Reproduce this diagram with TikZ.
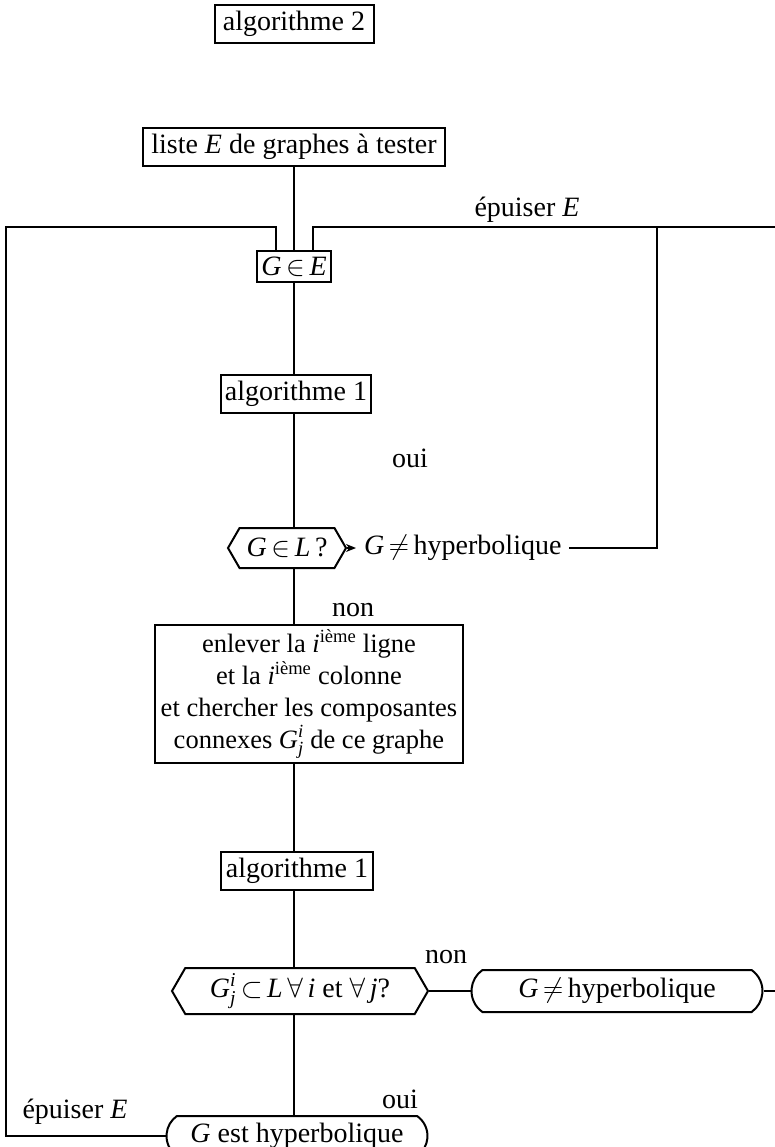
\documentclass[tikz,border=0pt]{standalone}
\usepackage{fix-cm}
\usepackage{amsmath}
\usepackage{fontspec}
\setmainfont{Liberation Serif}
\usetikzlibrary{shapes.misc,shapes.symbols,arrows.meta}
\begin{document}
\begin{tikzpicture}[x=1pt,y=-1pt, line width=2pt,
  every node/.style={font=\fontsize{28}{32}\selectfont, inner sep=0pt},
  box/.style={draw, rectangle, minimum height=38pt},
  decision/.style={draw, signal, signal to=west and east, signal pointer angle=120, minimum height=40pt},
  term/.style={draw, rounded rectangle, rounded rectangle arc length=110, minimum height=42pt},
  lbl/.style={draw=none}
]
\clip (0,0) rectangle (775,1147);
% nodes
\node[box, minimum width=159pt] (a2) at (294,24) {algorithme 2};
\node[box, minimum width=302pt] (liste) at (294,147) {liste \textit{E} de graphes à tester};
\node[box, minimum width=74pt, minimum height=31pt] (ge) at (294,267) {\textit{G}\,$\in$\,\textit{E}};
\node[lbl] (ep1) at (527,210) {épuiser \textit{E}};
\node[box, minimum width=150pt] (a1) at (296,394) {algorithme 1};
\node[lbl] (oui1) at (410,458) {oui};
\node[decision, minimum width=118pt] (d1) at (287,548) {\textit{G}\,$\in$\,\textit{L}\,?};
\node[lbl, anchor=west, inner xsep=7pt] (nh1) at (356,548) {\textit{G}\,$\neq$\,hyperbolique};
\node[lbl] (non1) at (353,610) {non};
\node[box, minimum width=308pt, minimum height=138pt, align=center,
      font=\fontsize{26.5}{32}\selectfont] (big) at (309,694)
  {enlever la \textit{i}\textsuperscript{ième} ligne\\
   et la \textit{i}\textsuperscript{ième} colonne\\
   et chercher les composantes\\
   connexes $\textit{G}^{\textit{i}}_{\textit{j}}$ de ce graphe};
\node[box, minimum width=152pt] (a1b) at (297,871) {algorithme 1};
\node[lbl] (non2) at (446,957) {non};
\node[decision, minimum width=256pt, minimum height=46pt] (d2) at (300,991)
  {$\textit{G}^{\textit{i}}_{\textit{j}}$\,$\subset$\,\textit{L}\,$\forall$\,\textit{i} et $\forall$\,\textit{j}?};
\node[term, minimum width=291pt] (nh2) at (617,991) {\textit{G}\,$\neq$\,hyperbolique};
\node[lbl] (oui2) at (400,1099) {oui};
\node[term, minimum width=261pt, minimum height=40pt] (est) at (297,1136) {\textit{G} est hyperbolique};
\node[lbl] (ep2) at (75,1112) {épuiser \textit{E}};
% coordinates for the loop lines
\coordinate (gl) at (276,227);
\coordinate (gr) at (313,227);
\coordinate (L) at (6,227);
\coordinate (R) at (775,227);
\coordinate (r1) at (657,548);
\coordinate (t1) at (657,227);
\coordinate (R2) at (775,991);
% connectors
\draw (liste.south) -- (ge.north);
\draw (gl |- ge.north) -- (gl) -- (L) |- (est.west);
\draw (gr |- ge.north) -- (gr) -- (R);
\draw (ge.south) -- (ge.south |- a1.north);
\draw (ge.south |- a1.south) -- (ge.south |- d1.north);
\draw[-{Stealth[length=10pt,width=8pt]}] (d1.east) -- (nh1.west);
\draw (nh1.east) -- (r1) -- (t1);
\draw (ge.south |- d1.south) -- (ge.south |- big.north);
\draw (ge.south |- big.south) -- (ge.south |- a1b.north);
\draw (ge.south |- a1b.south) -- (ge.south |- d2.north);
\draw (d2.east) -- (nh2.west);
\draw (nh2.east) -- (R2);
\draw (ge.south |- d2.south) -- (ge.south |- est.north);
\end{tikzpicture}
\end{document}
